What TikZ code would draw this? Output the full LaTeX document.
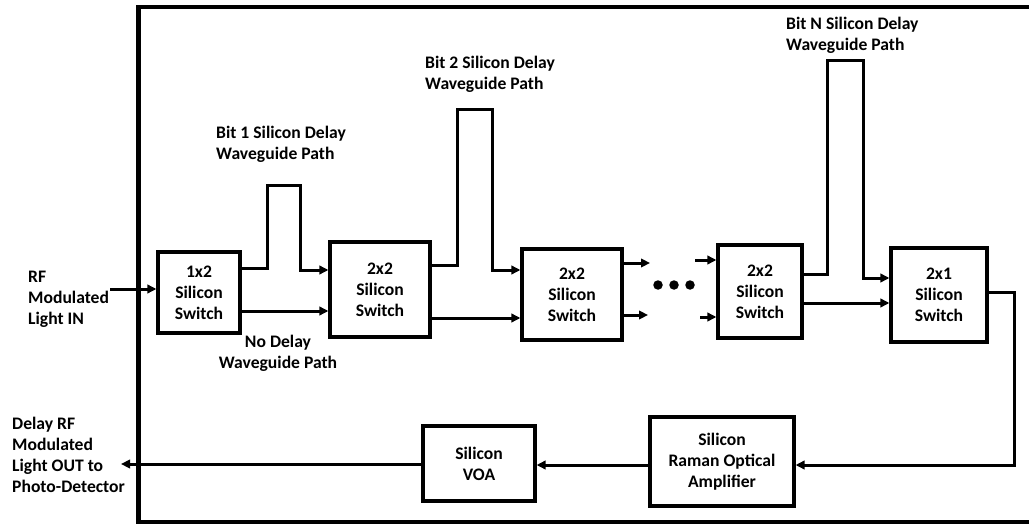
\documentclass[tikz,border=0pt]{standalone}
\usepackage{fontspec}
\setmainfont{Carlito}
\usetikzlibrary{arrows.meta}
\begin{document}
\begin{tikzpicture}[x=1pt,y=-1pt,
  every node/.style={font=\fontsize{17.6}{21}\selectfont\bfseries},
  blk/.style={draw,line width=3.2pt,align=center,inner sep=0pt},
  wire/.style={line width=3pt,line join=miter},
  arr/.style={wire,-{Triangle[length=9pt,width=8.5pt]}},
  lbl/.style={align=left,anchor=west,inner sep=0pt},
  dot/.style={fill,circle,inner sep=0pt,minimum size=9.5pt}]
\useasboundingbox (0,0) rectangle (1029,524);
% frame
\draw[line width=4.2pt] (1035,7) -- (138.5,7) -- (138.5,522) -- (1035,522);
% blocks
\node[blk,minimum width=82pt,minimum height=81pt] (s1) at (199,292.5) {1x2\\Silicon\\Switch};
\node[blk,minimum width=100pt,minimum height=95pt] (s2) at (380,289.5) {2x2\\Silicon\\Switch};
\node[blk,minimum width=100pt,minimum height=91pt] (s3) at (572,294.5) {2x2\\Silicon\\Switch};
\node[blk,minimum width=84pt,minimum height=93pt] (s4) at (760,291.5) {2x2\\Silicon\\Switch};
\node[blk,minimum width=96pt,minimum height=94pt] (s5) at (939,295) {2x1\\Silicon\\Switch};
\node[blk,minimum width=144pt,minimum height=89pt] (amp) at (722,461.5) {Silicon\\Raman Optical\\Amplifier};
\node[blk,minimum width=112pt,minimum height=75pt] (voa) at (479,463.5) {Silicon\\VOA};
% labels
\node[lbl] (inlbl) at (28,299) {RF\\Modulated\\Light IN};
\node[align=center,inner sep=0pt] (nodel) at (278,353) {No Delay\\Waveguide Path};
\node[lbl] (b1) at (216,144.5) {Bit 1 Silicon Delay\\Waveguide Path};
\node[lbl] (b2) at (425,74) {Bit 2 Silicon Delay\\Waveguide Path};
\node[lbl] (bn) at (786,35) {Bit N Silicon Delay\\Waveguide Path};
\node[lbl] (outlbl) at (12,455) {Delay RF\\Modulated\\Light OUT to\\Photo-Detector};
% dots
\node[dot] (d1) at (658,285) {};
\node[dot] (d2) at (674,285) {};
\node[dot] (d3) at (690,285) {};
% free ends
\coordinate (inpt) at (110,289);
\coordinate (outpt) at (121,464);
\coordinate (o3a) at (650,263);
\coordinate (o3b) at (648,315);
\coordinate (i4a) at (695,260);
\coordinate (i4b) at (700,317);
% connectors
\draw[arr] (inpt) -- (inpt -| s1.west);
\draw[arr] (s1.east |- 0,268) -- (267,268) -- (267,186) -- (300,186) -- (300,270) -- (s2.west |- 0,270);
\draw[arr] (s1.east |- 0,311) -- (s2.west |- 0,311);
\draw[arr] (s2.east |- 0,265) -- (457,265) -- (457,110) -- (492,110) -- (492,270) -- (s3.west |- 0,270);
\draw[arr] (s2.east |- 0,318) -- (s3.west |- 0,318);
\draw[arr] (s3.east |- o3a) -- (o3a);
\draw[arr] (s3.east |- o3b) -- (o3b);
\draw[arr] (i4a) -- (i4a -| s4.west);
\draw[arr] (i4b) -- (i4b -| s4.west);
\draw[arr] (s4.east |- 0,274) -- (827,274) -- (827,61) -- (863,61) -- (863,278) -- (s5.west |- 0,278);
\draw[arr] (s4.east |- 0,303) -- (s5.west |- 0,303);
\draw[arr] (s5.east |- 0,292) -- (1014,292) -- (1014,465) -- (amp.east |- 0,465);
\draw[arr] (amp.west |- 0,465) -- (voa.east |- 0,465);
\draw[arr] (voa.west |- outpt) -- (outpt);
\end{tikzpicture}
\end{document}
